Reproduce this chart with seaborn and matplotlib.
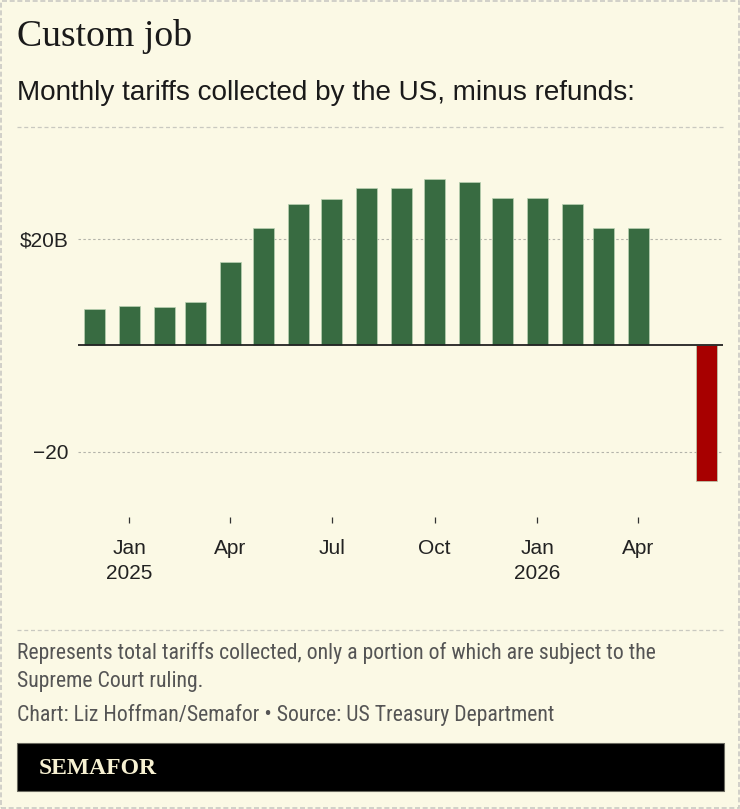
import matplotlib
matplotlib.use("Agg")
import matplotlib.pyplot as plt
import matplotlib.dates as mdates
from matplotlib import font_manager
from matplotlib.patches import Rectangle
from matplotlib.lines import Line2D
import numpy as np
import pandas as pd
import seaborn as sns

# ---------------- data ----------------
months = ["2024-12", "2025-01", "2025-02", "2025-03", "2025-04", "2025-05",
          "2025-06", "2025-07", "2025-08", "2025-09", "2025-10", "2025-11",
          "2025-12", "2026-01", "2026-02", "2026-03", "2026-04", "2026-06"]
values = [6.8, 7.3, 7.2, 8.2, 15.6, 22.1, 26.6, 27.6, 29.5, 29.6, 31.3, 30.8,
          27.8, 27.7, 26.5, 22.1, 22.0, -25.5]
kinds = ["collected"] * 17 + ["refund"]

tick_dates = ["2025-01-01", "2025-04-01", "2025-07-01", "2025-10-01",
              "2026-01-01", "2026-04-01"]
tick_labels = ["Jan\n2025", "Apr", "Jul", "Oct", "Jan\n2026", "Apr"]
y_ticks = [-20, 20]
y_tick_labels = ["\u221220", r"\$20B"]

title = "Custom job"
subtitle = "Monthly tariffs collected by the US, minus refunds:"
note_lines = ["Represents total tariffs collected, only a portion of which are subject to the",
              "Supreme Court ruling."]
credit = "Chart: Liz Hoffman/Semafor \u2022 Source: US Treasury Department"
brand = "SEMAFOR"

# ---------------- style ----------------
BG = "#FBF9E5"
GREEN = "#386B41"
RED = "#A70000"
INK = "#222222"
GREY = "#555555"

sns.set_style("white")
available = {f.name for f in font_manager.fontManager.ttflist}


def pick(cands):
    for c in cands:
        if c in available:
            return c
    return "DejaVu Sans"


SANS = pick(["Liberation Sans", "Arimo", "Roboto", "DejaVu Sans"])
NARROW = pick(["Liberation Sans Narrow", "Roboto Condensed", "Open Sans Condensed", SANS])
SERIF = pick(["Liberation Serif", "DejaVu Serif"])
plt.rcParams["font.family"] = [SANS, "DejaVu Sans"]

W, H = 740, 809
fig = plt.figure(figsize=(W / 100, H / 100), dpi=100, facecolor=BG)


def fx(x):
    return x / W


def fy(y):
    return 1 - y / H


# axes: x from 78 to 723 px, y from 143.3 to 517 px
ax = fig.add_axes([fx(78), fy(517), (723 - 78) / W, (517 - 143.3) / H])
ax.set_facecolor("none")

df = pd.DataFrame({"date": pd.to_datetime(months), "value": values, "kind": kinds})
df["x"] = mdates.date2num(df["date"])

sns.barplot(data=df, x="x", y="value", hue="kind",
            palette={"collected": GREEN, "refund": RED},
            native_scale=True, dodge=False, width=0.671, saturation=1,
            errorbar=None, legend=False, edgecolor="#b9d2b2", linewidth=0.5,
            ax=ax, zorder=3)

ax.set_xlim(mdates.date2num(pd.Timestamp("2024-11-16")),
            mdates.date2num(pd.Timestamp("2026-06-16")))
ax.set_ylim(-32.3, 38)

ax.set_xticks(mdates.date2num(pd.to_datetime(tick_dates)))
ax.set_xticklabels(tick_labels, linespacing=1.4)
ax.set_yticks(y_ticks)
ax.set_yticklabels(y_tick_labels)
ax.set_xlabel("")
ax.set_ylabel("")

ax.tick_params(axis="y", left=False, length=0, pad=6.5, labelsize=15, labelcolor=INK)
ax.tick_params(axis="x", bottom=True, length=4.3, width=0.9, color="#333333", pad=11.5,
               labelsize=15, labelcolor=INK, direction="out")
for s in ax.spines.values():
    s.set_visible(False)
ax.set_axisbelow(True)
ax.grid(axis="y", color="#b3b3aa", linestyle=(0, (2.2, 2.2)), linewidth=0.8)
ax.grid(axis="x", visible=False)
ax.axhline(0, color=INK, lw=1.3, zorder=4)

# ---------------- texts ----------------
renderer = fig.canvas.get_renderer()


def fit(t, width_px):
    bb = t.get_window_extent(renderer)
    t.set_fontsize(t.get_fontsize() * width_px / bb.width)
    return t


fit(fig.text(fx(17), fy(46), title, family=SERIF, fontsize=26, color="#1a1a1a",
             va="baseline", ha="left"), 175)
fit(fig.text(fx(17), fy(100), subtitle, family=SANS, fontsize=17, color="#1a1a1a",
             va="baseline", ha="left"), 623)
n1 = fit(fig.text(fx(17), fy(659.3), note_lines[0], family=NARROW, fontsize=13,
                  color=GREY, va="baseline", ha="left"), 637)
fs_note = n1.get_fontsize()
fig.text(fx(17), fy(687), note_lines[1], family=NARROW, fontsize=fs_note,
         color=GREY, va="baseline", ha="left")
fig.text(fx(17), fy(720.7), credit, family=NARROW, fontsize=fs_note,
         color=GREY, va="baseline", ha="left")

# brand bar
fig.add_artist(Rectangle((fx(16.5), fy(790.5)), (723.5 - 16.5) / W, 48 / H,
                         transform=fig.transFigure, facecolor="black",
                         edgecolor="#6a6a60", lw=0.8))
fit(fig.text(fx(39), fy(774.3), brand, family=SERIF, fontweight="bold", fontsize=17,
             color="#F7F1D2", va="baseline", ha="left"), 118)

# separators
for yy in (127, 629.5):
    fig.add_artist(Line2D([fx(17), fx(723)], [fy(yy), fy(yy)], transform=fig.transFigure,
                          color="#c9c9c0", lw=0.9, linestyle=(0, (3.2, 2.2))))

# outer dashed border
fig.add_artist(Rectangle((fx(1), fy(808)), (W - 2) / W, (H - 2) / H,
                         transform=fig.transFigure, fill=False,
                         edgecolor="#cacac4", lw=1.2, linestyle=(0, (3, 1.6))))

fig.savefig("out.png", dpi=100, facecolor=BG)
